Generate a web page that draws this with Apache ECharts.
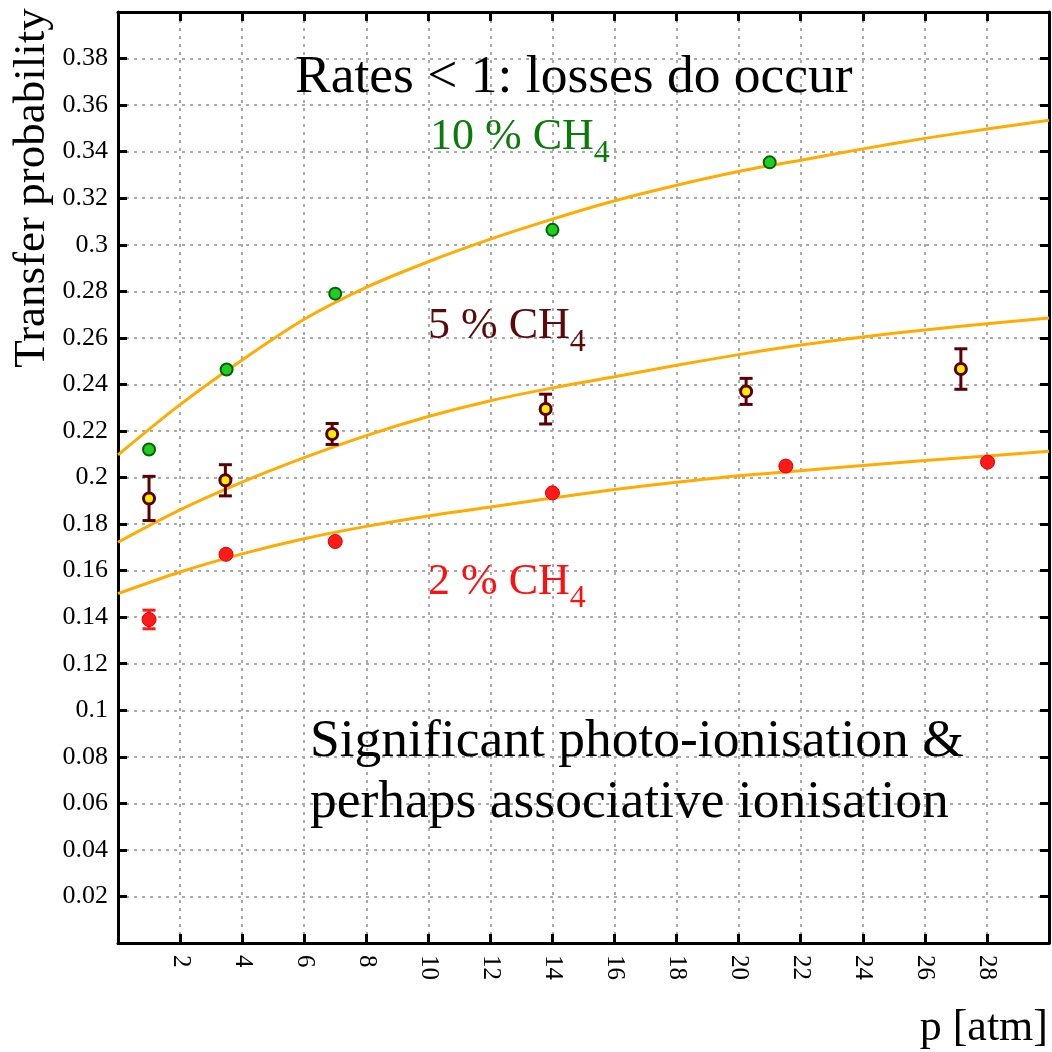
<!DOCTYPE html>
<html>
<head>
<meta charset="utf-8">
<script src="https://cdn.jsdelivr.net/npm/echarts@6/dist/echarts.min.js"></script>
<style>html,body{margin:0;padding:0;background:#fff}#c{width:1052px;height:1052px}</style>
</head>
<body>
<div id="c"></div>
<script>
// ---- data ----
const p10 = [1, 3.5, 7, 14, 21];
const t10 = [0.212, 0.2464, 0.279, 0.3064, 0.3354];

const p5 = [1, 3.46, 6.9, 13.78, 20.24, 27.16];
const t5 = [0.191, 0.1988, 0.2187, 0.2294, 0.2370, 0.2466];
const e5 = [0.0095, 0.0067, 0.0045, 0.0064, 0.0056, 0.0087];

const p2 = [1, 3.48, 7, 14, 21.52, 28.02];
const t2 = [0.139, 0.167, 0.1725, 0.1934, 0.2049, 0.2066];
const e2 = [0.004, 0, 0, 0, 0, 0];

const fitX = [0, 2, 4, 6, 8, 10, 12, 14, 16, 18, 20, 22, 24, 26, 28, 30];
const fit10 = [0.2097, 0.2313, 0.2505, 0.268, 0.2817, 0.2927, 0.3024, 0.311, 0.3189, 0.3256, 0.3315, 0.3363, 0.3412, 0.3457, 0.3497, 0.3535];
const fit5 = [0.1722, 0.1861, 0.198, 0.2085, 0.218, 0.2262, 0.233, 0.2385, 0.2433, 0.2482, 0.2528, 0.2569, 0.2604, 0.2634, 0.2661, 0.2685];
const fit2 = [0.1501, 0.1594, 0.1672, 0.1737, 0.179, 0.1835, 0.1873, 0.1912, 0.1948, 0.198, 0.2008, 0.2029, 0.2052, 0.2073, 0.2092, 0.2113];

const xLabelTicks = [2, 4, 6, 8, 10, 12, 14, 16, 18, 20, 22, 24, 26, 28];
const yTitle = 'Transfer probability';
const xTitle = 'p [atm]';

// ---- chart ----
const FONT = '"Liberation Serif", "DejaVu Serif", serif';
const ORANGE = '#ffab00';
const zip = (a, b) => a.map((v, i) => [v, b[i]]);
const zip3 = (a, b, c) => a.map((v, i) => [v, b[i], c[i]]);

const chart = echarts.init(document.getElementById('c'), null, {renderer: 'canvas'});

function errRender(color) {
  return function (params, api) {
    const x = api.value(0), y = api.value(1), e = api.value(2);
    if (!e) return null;
    const top = api.coord([x, y + e]);
    const bot = api.coord([x, y - e]);
    const w = 6.5;
    const st = {stroke: color, lineWidth: 3, fill: null};
    return {
      type: 'group',
      children: [
        {type: 'line', shape: {x1: top[0], y1: top[1], x2: bot[0], y2: bot[1]}, style: st},
        {type: 'line', shape: {x1: top[0] - w, y1: top[1], x2: top[0] + w, y2: top[1]}, style: st},
        {type: 'line', shape: {x1: bot[0] - w, y1: bot[1], x2: bot[0] + w, y2: bot[1]}, style: st}
      ]
    };
  };
}

const axisLine = {show: true, onZero: false, lineStyle: {color: '#000', width: 3}};
const axisTick = {show: true, inside: true, length: 9, lineStyle: {color: '#000', width: 3}};
const split = {show: true, lineStyle: {color: '#aaa', width: 2, type: [3, 5]}};

function ch(label, y, color) {
  return {
    type: 'text', x: label.x, y: y, z: 10,
    style: {
      x: 0, y: 0,
      text: '{m|' + label.t + '}{s|4}',
      verticalAlign: 'middle', align: 'left',
      fill: color,
      rich: {
        m: {fontFamily: FONT, fontSize: 44, lineHeight: 44, fill: color},
        s: {fontFamily: FONT, fontSize: 32, lineHeight: 28, fill: color, padding: [33, 0, 0, 0]}
      }
    }
  };
}

function txt(x, y, s, size, extra) {
  return Object.assign({
    type: 'text', x: x, y: y, z: 10,
    style: {x: 0, y: 0, text: s, fontFamily: FONT, fontSize: size, fill: '#000', align: 'left', verticalAlign: 'middle'}
  }, extra || {});
}

const option = {
  backgroundColor: '#fff',
  animation: false,
  grid: {left: 118, right: 3, top: 12, bottom: 109, containLabel: false},
  xAxis: [
    {
      type: 'value', min: 0, max: 30, interval: 2, position: 'bottom',
      axisLine: axisLine, axisTick: axisTick, splitLine: split,
      axisLabel: {
        rotate: -90, margin: 12, color: '#000', fontFamily: FONT, fontSize: 25,
        formatter: v => xLabelTicks.indexOf(v) >= 0 ? String(v) : ''
      }
    },
    {
      type: 'value', min: 0, max: 30, interval: 2, position: 'top',
      axisLine: axisLine, axisTick: axisTick, splitLine: {show: false}, axisLabel: {show: false}
    }
  ],
  yAxis: [
    {
      type: 'value', min: 0, max: 0.4, interval: 0.02, position: 'left',
      axisLine: axisLine, axisTick: axisTick, splitLine: split,
      axisLabel: {
        margin: 10, color: '#000', fontFamily: FONT, fontSize: 26,
        formatter: v => (v <= 0.001 || v >= 0.399) ? '' : String(+v.toFixed(2))
      }
    },
    {
      type: 'value', min: 0, max: 0.4, interval: 0.02, position: 'right',
      axisLine: axisLine, axisTick: axisTick, splitLine: {show: false}, axisLabel: {show: false}
    }
  ],
  series: [
    {type: 'line', data: zip(fitX, fit10), smooth: 0.3, symbol: 'none', lineStyle: {color: ORANGE, width: 3}, z: 2},
    {type: 'line', data: zip(fitX, fit5), smooth: 0.3, symbol: 'none', lineStyle: {color: ORANGE, width: 3}, z: 2},
    {type: 'line', data: zip(fitX, fit2), smooth: 0.3, symbol: 'none', lineStyle: {color: ORANGE, width: 3}, z: 2},
    {type: 'custom', data: zip3(p5, t5, e5), renderItem: errRender('#5a0000'), z: 3},
    {type: 'custom', data: zip3(p2, t2, e2), renderItem: errRender('#ff1a1a'), z: 3},
    {type: 'scatter', data: zip(p10, t10), symbol: 'circle', symbolSize: 12,
     itemStyle: {color: '#22cc22', borderColor: '#006400', borderWidth: 2, opacity: 1}, z: 4},
    {type: 'scatter', data: zip(p5, t5), symbol: 'circle', symbolSize: 11,
     itemStyle: {color: '#ffee00', borderColor: '#5a0000', borderWidth: 3, opacity: 1}, z: 4},
    {type: 'scatter', data: zip(p2, t2), symbol: 'circle', symbolSize: 14,
     itemStyle: {color: '#ff1a1a', borderColor: '#e00000', borderWidth: 1, opacity: 1}, z: 4}
  ],
  graphic: [
    {type: 'text', x: 32, y: 188, rotation: Math.PI / 2, z: 10,
     style: {x: 0, y: 0, text: yTitle, fontFamily: FONT, fontSize: 45, fill: '#000', align: 'center', verticalAlign: 'middle'}},
    {type: 'text', x: 1048, y: 1028, z: 10,
     style: {x: 0, y: 0, text: xTitle, fontFamily: FONT, fontSize: 44, fill: '#000', align: 'right', verticalAlign: 'middle'}},
    txt(295, 78, 'Rates < 1: losses do occur', 53.5),
    txt(310, 742, 'Significant photo-ionisation &', 53.5),
    txt(310, 803, 'perhaps associative ionisation', 53.5),
    ch({x: 430, t: '10 % CH'}, 137, '#0a7a0a'),
    ch({x: 428, t: '5 % CH'}, 326, '#5a0a0a'),
    ch({x: 428, t: '2 % CH'}, 582, '#ff1010')
  ]
};
chart.setOption(option);
</script>
</body>
</html>
